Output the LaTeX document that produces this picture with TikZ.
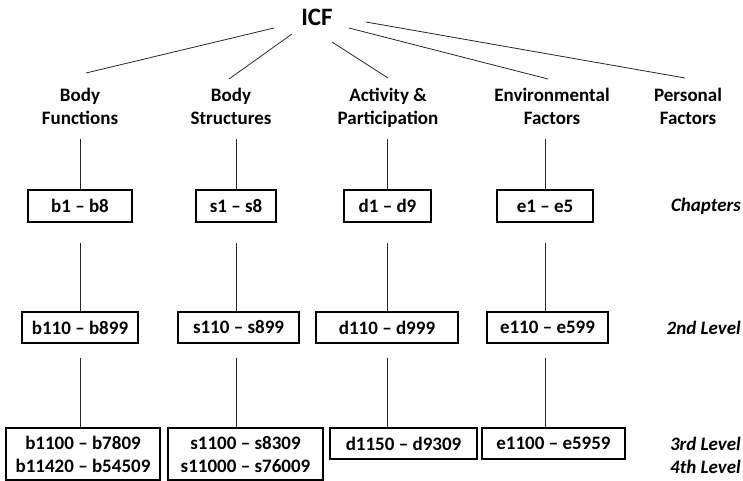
\documentclass[tikz,border=0pt]{standalone}
\usepackage{fontspec}
\setmainfont{Carlito}
\usetikzlibrary{positioning}

\begin{document}
\begin{tikzpicture}[
    x=1pt, y=-1pt,
    font=\bfseries\fontsize{19}{23}\selectfont,
    head/.style={align=center, inner sep=0pt},
    box/.style={
        draw=black, line width=1.6pt, align=center,
        inner sep=0pt, minimum height=31pt
    },
    tag/.style={anchor=east, align=right, inner sep=0pt, font=\bfseries\itshape\fontsize{19}{23}\selectfont},
    link/.style={draw=black!85, line width=0.8pt},
]
\useasboundingbox (0,0) rectangle (743,480);
% ---------- Root ----------
\node[inner sep=0pt, font=\bfseries\fontsize{25}{30}\selectfont] (icf) at (317, 17) {ICF};
% ---------- Components ----------
\node[head] (bf) at ( 80, 108) {\strut Body\\\strut Functions};
\node[head] (bs) at (231, 108) {\strut Body\\\strut Structures};
\node[head] (ap) at (388, 108) {\strut Activity \&\\\strut Participation};
\node[head] (ef) at (552, 108) {\strut Environmental\\\strut Factors};
\node[head] (pf) at (688, 108) {\strut Personal\\\strut Factors};
% ---------- Chapters ----------
\node[box, minimum width=104pt, minimum height=32pt] (b1) at ( 80,   206) {b1 -- b8};
\node[box, minimum width=80pt,  minimum height=32pt] (s1) at (236,   206) {s1 -- s8};
\node[box, minimum width=87pt,  minimum height=32pt] (d1) at (387.5, 206) {d1 -- d9};
\node[box, minimum width=96pt,  minimum height=32pt] (e1) at (545,   206) {e1 -- e5};
\node[tag] (chap) at (741, 206) {Chapters};
% ---------- 2nd level ----------
\node[box, minimum width=116pt] (b2) at ( 80,   327.5) {b110 -- b899};
\node[box, minimum width=121pt] (s2) at (238.5, 327.5) {s110 -- s899};
\node[box, minimum width=142pt] (d2) at (387,   327.5) {d110 -- d999};
\node[box, minimum width=121pt] (e2) at (547.5, 327.5) {e110 -- e599};
\node[tag] (lev2) at (741, 328) {2nd Level};
% ---------- 3rd / 4th level ----------
\node[box, minimum width=154pt, minimum height=52pt] (b3) at ( 83,   454) {b1100 -- b7809\\b11420 -- b54509};
\node[box, minimum width=155pt, minimum height=52pt] (s3) at (245.5, 454) {s1100 -- s8309\\s11000 -- s76009};
\node[box, minimum width=147pt] (d3) at (403.5, 443.5) {d1150 -- d9309};
\node[box, minimum width=143pt] (e3) at (553.5, 443.5) {e1100 -- e5959};
\node[tag] (lev34) at (741, 455) {3rd Level\\4th Level};
% ===================== EDGES =====================
\draw[link] ([shift={(-43,11)}]icf.center) -- ([shift={(6,-35)}]bf.center);
\draw[link] ([shift={(-25,17)}]icf.center) -- ([shift={(-2,-29)}]bs.center);
\draw[link] ([shift={(15,25)}]icf.center)  -- ([shift={(0,-30)}]ap.center);
\draw[link] ([shift={(32,11)}]icf.center)  -- ([shift={(-4,-29)}]ef.center);
\draw[link] ([shift={(49,5)}]icf.center)   -- ([shift={(-3,-30)}]pf.center);
% component -> chapters
\draw[link, shorten <=8pt] (b1.north |- bf.south) -- (b1.north);
\draw[link, shorten <=8pt] (s1.north |- bs.south) -- (s1.north);
\draw[link, shorten <=8pt] (d1.north |- ap.south) -- (d1.north);
\draw[link, shorten <=8pt] (e1.north |- ef.south) -- (e1.north);
% chapters -> 2nd level
\draw[link, shorten <=20pt] (b1.south) -- (b1.south |- b2.north);
\draw[link, shorten <=20pt] (s1.south) -- (s1.south |- s2.north);
\draw[link, shorten <=20pt] (d1.south) -- (d1.south |- d2.north);
\draw[link, shorten <=20pt] (e1.south) -- (e1.south |- e2.north);
% 2nd level -> 3rd level
\draw[link, shorten <=14pt] (b1 |- b2.south) -- (b1 |- b3.north);
\draw[link, shorten <=14pt] (s1 |- s2.south) -- (s1 |- s3.north);
\draw[link, shorten <=14pt] (d1 |- d2.south) -- (d1 |- d3.north);
\draw[link, shorten <=14pt] (e1 |- e2.south) -- (e1 |- e3.north);
\end{tikzpicture}
\end{document}
